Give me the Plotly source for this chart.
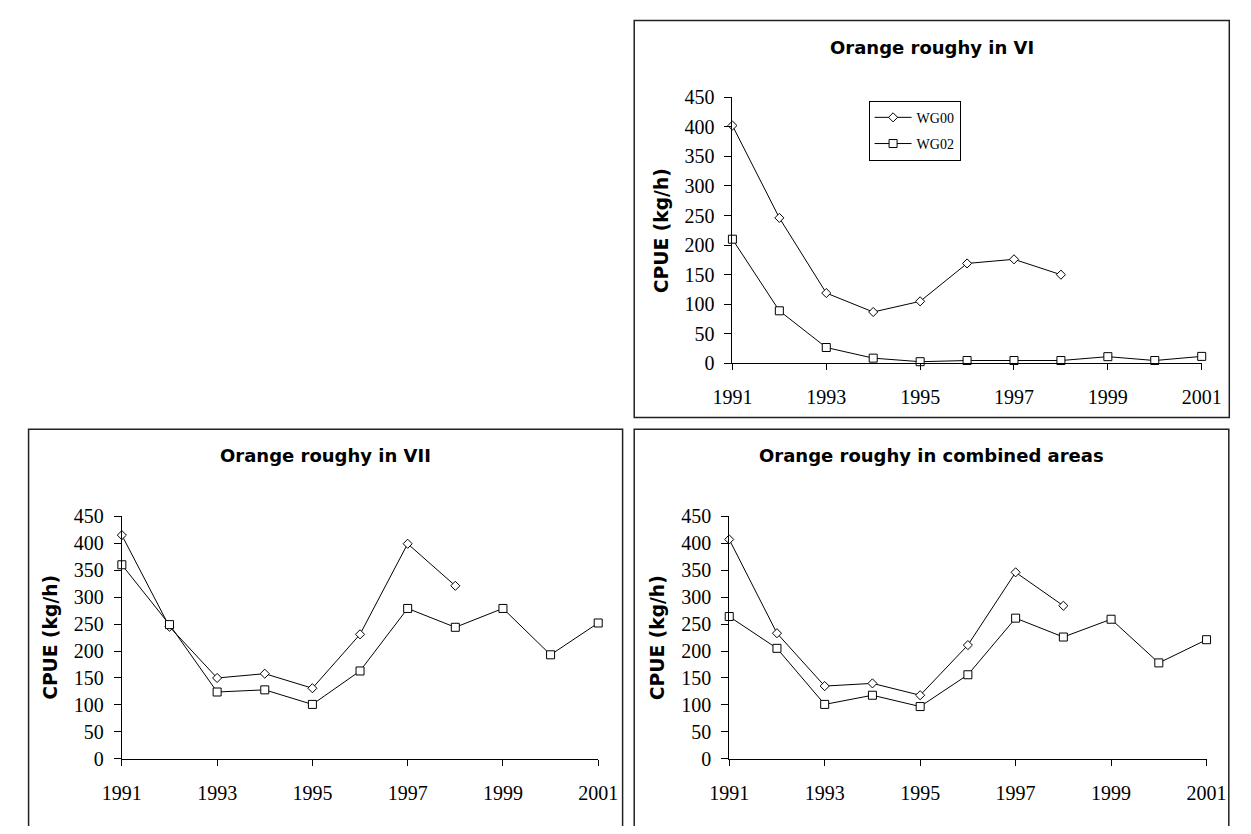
import plotly.graph_objects as go

# Reference canvas is 1251x834; the page body adds an 8px margin, so the figure is
# made 16px smaller and every reference pixel position is shifted by the margin.
REF_W, REF_H = 1251, 834
BODY_MARGIN = 8
W, H = REF_W - 2 * BODY_MARGIN, REF_H - 2 * BODY_MARGIN

years_wg00 = [1991, 1992, 1993, 1994, 1995, 1996, 1997, 1998]
years_wg02 = [1991, 1992, 1993, 1994, 1995, 1996, 1997, 1998, 1999, 2000, 2001]

vi_wg00 = [402, 246, 119, 87, 105, 169, 176, 150]
vi_wg02 = [210, 89, 27, 9, 3, 5, 5, 5, 11.5, 5, 12]

vii_wg00 = [415, 245, 150, 158, 131, 231, 399, 321]
vii_wg02 = [360, 249, 124, 128, 101, 163, 279, 244, 279, 193, 252]

comb_wg00 = [407, 233, 135, 140, 118, 211, 346, 284]
comb_wg02 = [264, 205, 101, 118, 97, 156, 261, 226, 259, 178, 221]

titles = ["Orange roughy in VI", "Orange roughy in VII", "Orange roughy in combined areas"]
series_names = ["WG00", "WG02"]
y_title = "CPUE (kg/h)"
y_ticks = [0, 50, 100, 150, 200, 250, 300, 350, 400, 450]
x_ticks = [1991, 1993, 1995, 1997, 1999, 2001]

def px(x):
    return (x - BODY_MARGIN) / W

def py(y):
    return 1 - (y - BODY_MARGIN) / H

panels = [
    dict(ax0=736, ax1=1221, ay0=88.3, ay1=362, bx0=634.5, bx1=1249.5, by0=9.5, by1=417.5),
    dict(ax0=105, ax1=597.3, ay0=519, ay1=768.3, bx0=8.6, bx1=622.5, by0=429.5, by1=850),
    dict(ax0=732.7, ax1=1226, ay0=519, ay1=768.3, bx0=634.5, bx1=1249, by0=429.5, by1=850),
]

data_sets = [(vi_wg00, vi_wg02), (vii_wg00, vii_wg02), (comb_wg00, comb_wg02)]

fig = go.Figure()
serif = "Liberation Serif, Times New Roman, serif"
bold_sans = "DejaVu Sans, Arial, sans-serif"

annotations = []
shapes = []
for i, (p, (d00, d02)) in enumerate(zip(panels, data_sets)):
    suffix = "" if i == 0 else str(i + 1)
    xa = "x" + suffix
    ya = "y" + suffix
    fig.add_trace(go.Scatter(
        x=years_wg00, y=d00, name=series_names[0], mode="lines+markers",
        xaxis=xa, yaxis=ya, cliponaxis=False,
        line=dict(color="black", width=1),
        marker=dict(symbol="diamond", size=7, color="white", line=dict(color="black", width=1)),
        showlegend=(i == 0), legendgroup="a",
    ))
    fig.add_trace(go.Scatter(
        x=years_wg02, y=d02, name=series_names[1], mode="lines+markers",
        xaxis=xa, yaxis=ya, cliponaxis=False,
        line=dict(color="black", width=1),
        marker=dict(symbol="square", size=8, color="white", line=dict(color="black", width=1)),
        showlegend=(i == 0), legendgroup="b",
    ))
    common_x = dict(
        domain=[px(p["ax0"]), px(p["ax1"])], range=[1991, 2001],
        tickmode="array", tickvals=x_ticks, ticktext=[str(t) for t in x_ticks],
        ticks="outside", ticklen=6, tickwidth=1, tickcolor="black",
        showline=True, linecolor="black", linewidth=1,
        showgrid=False, zeroline=False,
        tickfont=dict(family=serif, size=20, color="black"),
        ticklabelstandoff=10,
        anchor=ya,
    )
    common_y = dict(
        domain=[py(p["ay1"]), py(p["ay0"])], range=[0, 450],
        tickmode="array", tickvals=y_ticks,
        ticks="outside", ticklen=7, tickwidth=1, tickcolor="black",
        showline=True, linecolor="black", linewidth=1,
        showgrid=False, zeroline=False,
        tickfont=dict(family=serif, size=20, color="black"),
        ticklabelstandoff=6,
        anchor=xa,
    )
    fig.update_layout(**{"xaxis" + suffix: common_x, "yaxis" + suffix: common_y})

    annotations.append(dict(
        text="<b>" + titles[i] + "</b>", xref="paper", yref="paper",
        x=px((p["bx0"] + p["bx1"]) / 2), y=py(p["by0"] + 27.3),
        xanchor="center", yanchor="middle", showarrow=False,
        font=dict(family=bold_sans, size=18, color="black"),
    ))
    annotations.append(dict(
        text="<b>" + y_title + "</b>", xref="paper", yref="paper",
        x=px(p["ax0"] - 74), y=py((p["ay0"] + p["ay1"]) / 2),
        xanchor="center", yanchor="middle", showarrow=False, textangle=-90,
        font=dict(family=bold_sans, size=18.7, color="black"),
    ))
    shapes.append(dict(
        type="rect", xref="paper", yref="paper",
        x0=px(p["bx0"]), x1=px(p["bx1"]), y0=py(p["by1"]), y1=py(p["by0"]),
        line=dict(color="#222222", width=1.5), fillcolor="rgba(0,0,0,0)", layer="below",
    ))

fig.update_layout(
    width=W, height=H,
    margin=dict(l=0, r=0, t=0, b=0),
    paper_bgcolor="white", plot_bgcolor="white",
    annotations=annotations, shapes=shapes,
    showlegend=True,
    legend=dict(
        x=px(876.7), y=py(92), xanchor="left", yanchor="top",
        bordercolor="black", borderwidth=1, bgcolor="white",
        font=dict(family=serif, size=14, color="black"),
        tracegroupgap=5, itemwidth=37,
    ),
)

fig.write_html("out.html")
